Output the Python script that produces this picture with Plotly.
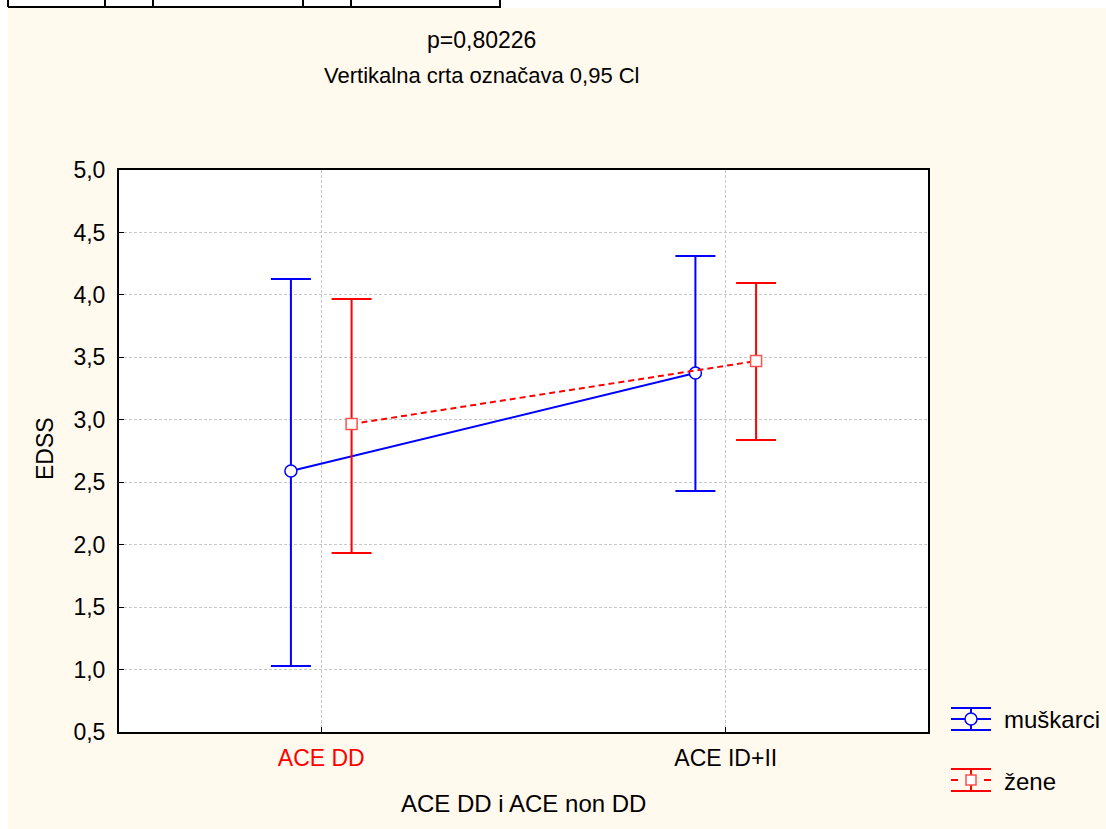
import plotly.graph_objects as go

# ---- data ----
categories = ["ACE DD", "ACE ID+II"]
tick_colors = ["#FF0000", "#000000"]
series_names = ["muškarci", "žene"]
mean_m = [2.59, 3.374]
upper_m = [4.127, 4.311]
lower_m = [1.028, 2.43]
mean_z = [2.966, 3.47]
upper_z = [3.967, 4.095]
lower_z = [1.933, 2.838]
y_ticks = [0.5, 1.0, 1.5, 2.0, 2.5, 3.0, 3.5, 4.0, 4.5, 5.0]

W, H = 1106, 829
L, R, T, B = 119, 928, 170, 732
FONT = "Liberation Sans, Arial, sans-serif"
CREAM = "#FFF9EE"
BLUE = "#0000FF"
RED = "#FF0000"

def px(x):
    return (x - L) / (R - L)

def py(y):
    return (B - y) / (B - T)

offset = 0.075
xc = list(range(len(categories)))
x_m = [c - offset for c in xc]
x_z = [c + offset for c in xc]

fig = go.Figure()
fig.add_trace(go.Scatter(
    x=x_m, y=mean_m, mode="lines+markers", name=series_names[0],
    line=dict(color=BLUE, width=2),
    marker=dict(symbol="circle", size=12, color="white", line=dict(color=BLUE, width=1.5)),
    error_y=dict(type="data", symmetric=False,
                 array=[u - m for u, m in zip(upper_m, mean_m)],
                 arrayminus=[m - l for m, l in zip(mean_m, lower_m)],
                 color=BLUE, thickness=2, width=20),
    showlegend=False,
))
fig.add_trace(go.Scatter(
    x=x_z, y=mean_z, mode="lines+markers", name=series_names[1],
    line=dict(color=RED, width=2, dash="6px,4px"),
    marker=dict(symbol="square", size=11, color="white", line=dict(color="#FF5050", width=1.5)),
    error_y=dict(type="data", symmetric=False,
                 array=[u - m for u, m in zip(upper_z, mean_z)],
                 arrayminus=[m - l for m, l in zip(mean_z, lower_z)],
                 color=RED, thickness=2, width=20),
    showlegend=False,
))

shapes = []
# cream page background (leaving a white strip at left/top)
shapes.append(dict(type="rect", xref="paper", yref="paper", layer="below",
                   x0=px(8), x1=px(W + 5), y0=py(8), y1=py(H + 5),
                   fillcolor=CREAM, line=dict(width=0)))
# white plot area
shapes.append(dict(type="rect", xref="paper", yref="paper", layer="below",
                   x0=0, x1=1, y0=0, y1=1, fillcolor="white", line=dict(width=0)))
# table fragment at top
shapes.append(dict(type="line", xref="paper", yref="paper", x0=px(8), x1=px(501),
                   y0=py(7), y1=py(7), line=dict(color="black", width=2)))
for vx in [8, 105, 153, 303, 351, 500]:
    shapes.append(dict(type="line", xref="paper", yref="paper", x0=px(vx), x1=px(vx),
                       y0=py(-2), y1=py(7), line=dict(color="black", width=2)))

# custom legend glyphs
def legend_glyph(cy, color, dash, symbol):
    out = []
    for dy in (-11, 11):
        out.append(dict(type="line", xref="paper", yref="paper", x0=px(951), x1=px(991),
                        y0=py(cy + dy), y1=py(cy + dy), line=dict(color=color, width=2)))
    out.append(dict(type="line", xref="paper", yref="paper", x0=px(971), x1=px(971),
                    y0=py(cy - 11), y1=py(cy + 11), line=dict(color=color, width=2)))
    if dash:
        out.append(dict(type="line", xref="paper", yref="paper", x0=px(951), x1=px(958),
                        y0=py(cy), y1=py(cy), line=dict(color=color, width=2)))
        out.append(dict(type="line", xref="paper", yref="paper", x0=px(984), x1=px(991),
                        y0=py(cy), y1=py(cy), line=dict(color=color, width=2)))
    else:
        out.append(dict(type="line", xref="paper", yref="paper", x0=px(951), x1=px(991),
                        y0=py(cy), y1=py(cy), line=dict(color=color, width=2)))
    if symbol == "circle":
        out.append(dict(type="circle", xref="paper", yref="paper", x0=px(965), x1=px(977),
                        y0=py(cy - 6), y1=py(cy + 6), fillcolor="white",
                        line=dict(color=color, width=1.5)))
    else:
        out.append(dict(type="rect", xref="paper", yref="paper", x0=px(966), x1=px(976),
                        y0=py(cy - 5), y1=py(cy + 5), fillcolor="white",
                        line=dict(color="#FF5050", width=1.5)))
    return out

shapes += legend_glyph(719, BLUE, False, "circle")
shapes += legend_glyph(780, RED, True, "square")

annotations = [
    dict(text="p=0,80226", x=px(481), y=py(40), xref="paper", yref="paper",
         showarrow=False, font=dict(family=FONT, size=23, color="black"),
         xanchor="center", yanchor="middle"),
    dict(text="Vertikalna crta označava 0,95 Cl", x=px(482), y=py(76), xref="paper", yref="paper",
         showarrow=False, font=dict(family=FONT, size=22, color="black"),
         xanchor="center", yanchor="middle"),
    dict(text="EDSS", x=px(45), y=py(449), xref="paper", yref="paper", textangle=-90,
         showarrow=False, font=dict(family=FONT, size=23, color="black"),
         xanchor="center", yanchor="middle"),
    dict(text="ACE DD i ACE non DD", x=px(523), y=py(803), xref="paper", yref="paper",
         showarrow=False, font=dict(family=FONT, size=24, color="black"),
         xanchor="center", yanchor="middle"),
    dict(text=series_names[0], x=px(1002), y=py(719), xref="paper", yref="paper",
         showarrow=False, font=dict(family=FONT, size=24, color="black"),
         xanchor="left", yanchor="middle"),
    dict(text=series_names[1], x=px(1002), y=py(781), xref="paper", yref="paper",
         showarrow=False, font=dict(family=FONT, size=24, color="black"),
         xanchor="left", yanchor="middle"),
]

ticktext = [f'<span style="color:{c}">{t}</span>' for t, c in zip(categories, tick_colors)]

fig.update_layout(
    width=W, height=H,
    margin=dict(l=L, r=W - R, t=T, b=H - B, pad=0),
    paper_bgcolor="white", plot_bgcolor="white",
    separators=",.",
    font=dict(family=FONT, size=23, color="black"),
    shapes=shapes, annotations=annotations, showlegend=False,
    xaxis=dict(range=[-0.5, 1.5], tickmode="array", tickvals=xc, ticktext=ticktext,
               showgrid=True, gridcolor="#C8C8C8", griddash="3px,2px", gridwidth=1,
               zeroline=False, showline=True, linecolor="black", linewidth=2, mirror=True,
               ticks="inside", ticklen=5, tickcolor="black", tickwidth=1,
               ticklabelstandoff=4, tickfont=dict(family=FONT, size=23)),
    yaxis=dict(range=[0.5, 5.0], tickmode="array", tickvals=y_ticks, tickformat=".1f",
               showgrid=True, gridcolor="#C8C8C8", griddash="3px,2px", gridwidth=1,
               zeroline=False, showline=True, linecolor="black", linewidth=2, mirror=True,
               ticks="inside", ticklen=5, tickcolor="black", tickwidth=1,
               ticklabelstandoff=7, tickfont=dict(family=FONT, size=23)),
)

fig.write_html("out.html", config={"displayModeBar": False},
               post_script="document.body.style.margin='0';document.body.style.overflow='hidden';")
